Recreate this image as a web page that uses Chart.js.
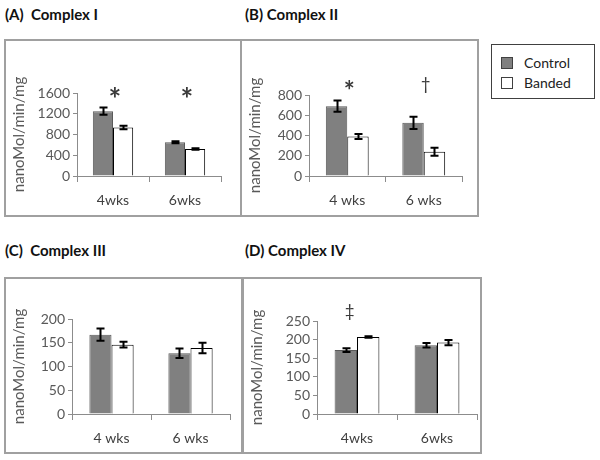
<!DOCTYPE html>
<html>
<head>
<meta charset="utf-8">
<script src="https://cdn.jsdelivr.net/npm/chart.js@4.4.0/dist/chart.umd.min.js"></script>
<style>
  body { margin: 0; background: #fff; font-family: Lato, sans-serif; }
  .panel { position: absolute; border: 2px solid #a0a0a0; box-sizing: border-box; }
  .panel canvas { position: absolute; left: 0; top: 0; }
  .ptitle { position: absolute; font: bold 15px Lato, sans-serif; color: #111; white-space: pre; }
  #legend { position: absolute; left: 491px; top: 44px; width: 104px; height: 55px;
            border: 1px solid #404040; box-sizing: border-box; font: 14px Lato, sans-serif; color: #222; }
  #legend .row { position: absolute; left: 9px; height: 16px; line-height: 16px; }
  #legend .sw { display: inline-block; width: 10px; height: 10px; border: 1px solid #404040;
                vertical-align: -1px; margin-right: 11px; }
</style>
</head>
<body>
<div class="ptitle" style="left:5px; top:5px">(A)  Complex I</div>
<div class="ptitle" style="left:245px; top:5px">(B) Complex II</div>
<div class="ptitle" style="left:5px; top:241px">(C)  Complex III</div>
<div class="ptitle" style="left:245px; top:241px">(D) Complex IV</div>

<div class="panel" style="left:4px; top:39px; width:238px; height:178px"><canvas id="cA" width="234" height="174"></canvas></div>
<div class="panel" style="left:240px; top:39px; width:239px; height:178px"><canvas id="cB" width="235" height="174"></canvas></div>
<div class="panel" style="left:4px; top:277px; width:239px; height:177px"><canvas id="cC" width="235" height="173"></canvas></div>
<div class="panel" style="left:242px; top:277px; width:240px; height:177px"><canvas id="cD" width="236" height="173"></canvas></div>

<div id="legend">
  <div class="row" style="top:10px"><span class="sw" style="background:#808080"></span>Control</div>
  <div class="row" style="top:30px"><span class="sw" style="background:#fff"></span>Banded</div>
</div>

<script>
// Enzyme activity, nanoMol/min/mg (mean and error)
const seriesNames = ['Control', 'Banded'];

const weeksA = ['4wks', '6wks'];
const controlA = [1250, 650];
const controlErrA = [70, 20];
const bandedA = [935, 520];
const bandedErrA = [35, 15];
const marksA = ['*', '*'];

const weeksB = ['4 wks', '6 wks'];
const controlB = [690, 525];
const controlErrB = [55, 60];
const bandedB = [390, 240];
const bandedErrB = [25, 40];
const marksB = ['*', '†'];

const weeksC = ['4 wks', '6 wks'];
const controlC = [167, 128];
const controlErrC = [13, 10];
const bandedC = [146, 139];
const bandedErrC = [6, 11];
const marksC = ['', ''];

const weeksD = ['4wks', '6wks'];
const controlD = [172, 185];
const controlErrD = [5, 6];
const bandedD = [207, 192];
const bandedErrD = [2, 7];
const marksD = ['‡', ''];

const axisGrey = '#8c8c8c';
const tickGrey = '#595959';

// draws error whiskers and significance marks
const extrasPlugin = {
    id: 'extras',
    afterDatasetsDraw(chart) {
        const ctx = chart.ctx;
        const yScale = chart.scales.y;
        const cfg = chart.options.plugins.extras;
        ctx.save();
        ctx.strokeStyle = '#000';
        ctx.lineWidth = 2;
        chart.data.datasets.forEach((ds, i) => {
            const meta = chart.getDatasetMeta(i);
            meta.data.forEach((bar, j) => {
                const e = ds.errors[j];
                const yTop = yScale.getPixelForValue(ds.data[j] + e);
                const yBot = yScale.getPixelForValue(ds.data[j] - e);
                const x = Math.round(bar.x) + 0.5;
                ctx.beginPath();
                ctx.moveTo(x, yTop); ctx.lineTo(x, yBot);
                ctx.moveTo(x - 4, yTop); ctx.lineTo(x + 4, yTop);
                ctx.moveTo(x - 4, yBot); ctx.lineTo(x + 4, yBot);
                ctx.stroke();
            });
        });
        // marks above each group
        ctx.fillStyle = '#3a3a3a';
        ctx.textAlign = 'center';
        ctx.textBaseline = 'alphabetic';
        cfg.marks.forEach((m, j) => {
            if (!m) return;
            const b0 = chart.getDatasetMeta(0).data[j];
            const b1 = chart.getDatasetMeta(1).data[j];
            const x = cfg.overControl ? b0.x + 4 : (b0.x + b1.x) / 2 + 2;
            ctx.font = (m === '*' ? 'bold ' + cfg.starSize : 17) + 'px Lato, sans-serif';
            const tm = ctx.measureText(m);
            const yc = chart.chartArea.top + cfg.markOffset;
            ctx.fillText(m, x, yc + (tm.actualBoundingBoxAscent - tm.actualBoundingBoxDescent) / 2);
        });
        ctx.restore();
    }
};

function makePanel(id, labels, control, controlErr, banded, bandedErr, marks, yMax, yStep, area, extra) {
    const canvas = document.getElementById(id);
    const W = canvas.width, H = canvas.height;
    const padLeft = 4, padBottom = 8;
    new Chart(canvas, {
        type: 'bar',
        data: {
            labels: labels,
            datasets: [{
                label: seriesNames[0],
                data: control,
                errors: controlErr,
                backgroundColor: '#808080',
                borderColor: '#5a5a5a',
                borderWidth: 1
            }, {
                label: seriesNames[1],
                data: banded,
                errors: bandedErr,
                backgroundColor: '#ffffff',
                borderColor: '#000000',
                borderWidth: 1
            }]
        },
        options: {
            responsive: false,
            animation: false,
            layout: { padding: { left: padLeft, top: area[1], right: W - area[2], bottom: padBottom } },
            datasets: { bar: { barPercentage: 1, categoryPercentage: 0.56 } },
            plugins: {
                legend: { display: false },
                tooltip: { enabled: false },
                extras: { marks: marks, markOffset: extra.markOffset, starSize: extra.starSize, overControl: extra.overControl }
            },
            scales: {
                x: {
                    afterFit: s => { s.height = H - area[3] - padBottom; },
                    grid: { drawOnChartArea: false, tickLength: 6, color: axisGrey },
                    border: { color: axisGrey },
                    ticks: { color: '#404040', font: { family: 'Lato', size: 14 }, padding: 10 }
                },
                y: {
                    min: 0,
                    max: yMax,
                    afterFit: s => { s.width = area[0] - padLeft; },
                    grid: { drawOnChartArea: false, tickLength: 4, color: axisGrey },
                    border: { color: axisGrey },
                    ticks: {
                        stepSize: yStep,
                        autoSkip: false,
                        callback: v => String(v),
                        color: tickGrey,
                        font: { family: 'Lato', size: 14 },
                        padding: 3
                    },
                    title: {
                        display: true,
                        text: 'nanoMol/min/mg',
                        color: tickGrey,
                        font: { family: 'Lato', size: 15 },
                        padding: 0
                    }
                }
            }
        },
        plugins: [extrasPlugin]
    });
}

document.addEventListener('DOMContentLoaded', () => {
    makePanel('cA', weeksA, controlA, controlErrA, bandedA, bandedErrA, marksA, 1600, 400,
        [71, 52, 215, 135], { markOffset: -1, starSize: 30, overControl: false });
    makePanel('cB', weeksB, controlB, controlErrB, bandedB, bandedErrB, marksB, 800, 200,
        [67, 54, 220, 135], { markOffset: -10, starSize: 26, overControl: false });
    makePanel('cC', weeksC, controlC, controlErrC, bandedC, bandedErrC, marksC, 200, 50,
        [66, 40, 224, 135], { markOffset: -10, starSize: 26, overControl: false });
    makePanel('cD', weeksD, controlD, controlErrD, bandedD, bandedErrD, marksD, 250, 50,
        [73, 42, 233, 135], { markOffset: -9, starSize: 26, overControl: true });
});
</script>
</body>
</html>
